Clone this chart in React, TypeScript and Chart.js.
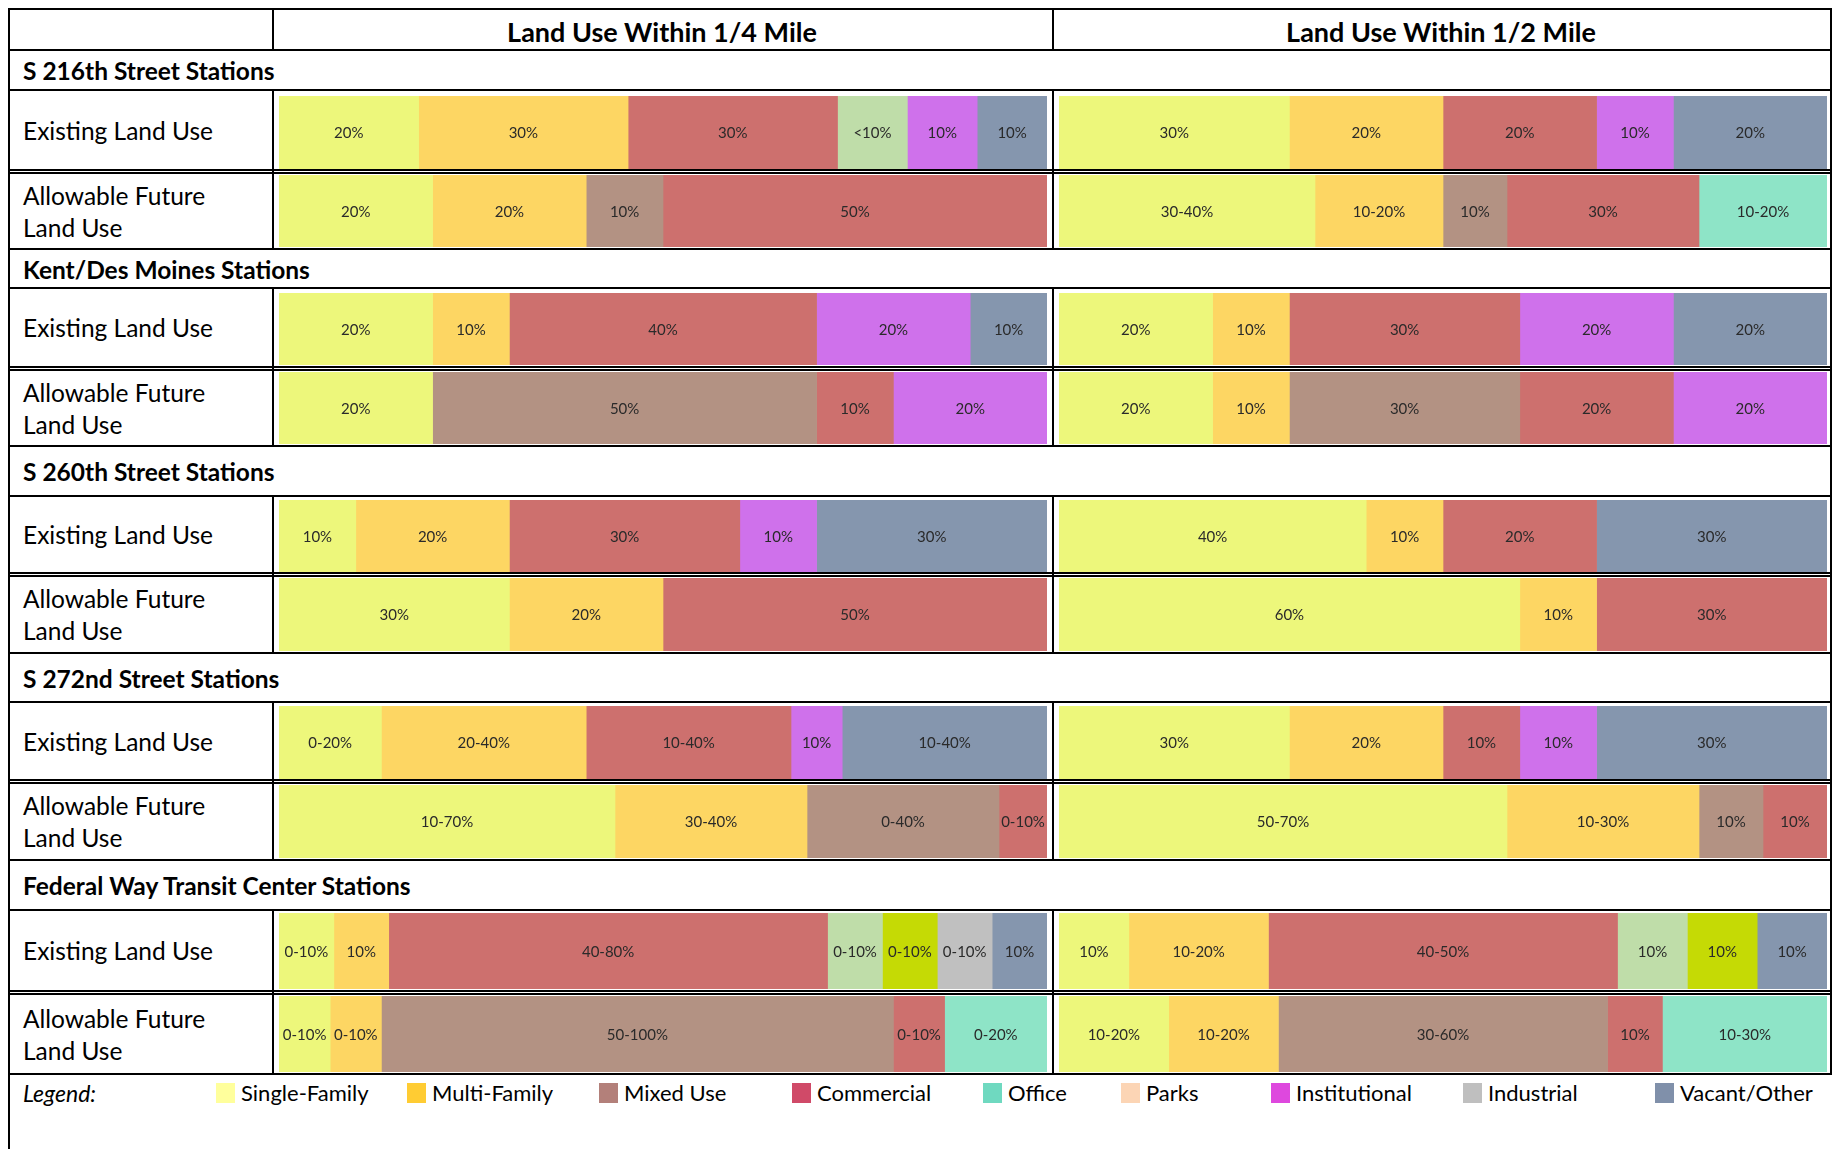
import React, { useEffect, useRef } from "react";
import { Chart, registerables } from "chart.js";

Chart.register(...registerables);

// ---------- Categories ----------
const CATEGORY_KEYS = ["SF", "MF", "MU", "COM", "OFF", "PRK", "INST", "IND", "VAC", "GRN", "AG"];
const CATEGORY_NAMES = ["Single-Family", "Multi-Family", "Mixed Use", "Commercial", "Office", "Parks", "Institutional", "Industrial", "Vacant/Other", "Open Space", "Agriculture"];
const BAR_COLORS = ["#EDF77B", "#FDD663", "#B39283", "#CD706E", "#8EE4C7", "#FBD5B5", "#CF71EB", "#C0C0C0", "#8596AE", "#BFDDA9", "#C5DA05"];

// ---------- Legend ----------
const LEGEND_LABELS = ["Single-Family", "Multi-Family", "Mixed Use", "Commercial", "Office", "Parks", "Institutional", "Industrial", "Vacant/Other"];
const LEGEND_COLORS = ["#FFFF9C", "#FFCC33", "#B3807A", "#D04A68", "#6FD9C0", "#FCD5B5", "#DE48DE", "#BFBFBF", "#8090AA"];

// ---------- Headers ----------
const COLUMN_TITLES = ["Land Use Within 1/4 Mile", "Land Use Within 1/2 Mile"];
const SECTION_TITLES = ["S 216th Street Stations", "Kent/Des Moines Stations", "S 260th Street Stations", "S 272nd Street Stations", "Federal Way Transit Center Stations"];
const ROW_TITLES = ["Existing Land Use", "Allowable Future\nLand Use"];

// ---------- Data: [category, value, label] ----------
type Seg = [string, number, string];
const s216ExistingQuarter: Seg[] = [["SF", 20, "20%"], ["MF", 30, "30%"], ["COM", 30, "30%"], ["GRN", 10, "<10%"], ["INST", 10, "10%"], ["VAC", 10, "10%"]];
const s216FutureQuarter: Seg[] = [["SF", 20, "20%"], ["MF", 20, "20%"], ["MU", 10, "10%"], ["COM", 50, "50%"]];
const s216ExistingHalf: Seg[] = [["SF", 30, "30%"], ["MF", 20, "20%"], ["COM", 20, "20%"], ["INST", 10, "10%"], ["VAC", 20, "20%"]];
const s216FutureHalf: Seg[] = [["SF", 40, "30-40%"], ["MF", 20, "10-20%"], ["MU", 10, "10%"], ["COM", 30, "30%"], ["OFF", 20, "10-20%"]];

const kentExistingQuarter: Seg[] = [["SF", 20, "20%"], ["MF", 10, "10%"], ["COM", 40, "40%"], ["INST", 20, "20%"], ["VAC", 10, "10%"]];
const kentFutureQuarter: Seg[] = [["SF", 20, "20%"], ["MU", 50, "50%"], ["COM", 10, "10%"], ["INST", 20, "20%"]];
const kentExistingHalf: Seg[] = [["SF", 20, "20%"], ["MF", 10, "10%"], ["COM", 30, "30%"], ["INST", 20, "20%"], ["VAC", 20, "20%"]];
const kentFutureHalf: Seg[] = [["SF", 20, "20%"], ["MF", 10, "10%"], ["MU", 30, "30%"], ["COM", 20, "20%"], ["INST", 20, "20%"]];

const s260ExistingQuarter: Seg[] = [["SF", 10, "10%"], ["MF", 20, "20%"], ["COM", 30, "30%"], ["INST", 10, "10%"], ["VAC", 30, "30%"]];
const s260FutureQuarter: Seg[] = [["SF", 30, "30%"], ["MF", 20, "20%"], ["COM", 50, "50%"]];
const s260ExistingHalf: Seg[] = [["SF", 40, "40%"], ["MF", 10, "10%"], ["COM", 20, "20%"], ["VAC", 30, "30%"]];
const s260FutureHalf: Seg[] = [["SF", 60, "60%"], ["MF", 10, "10%"], ["COM", 30, "30%"]];

const s272ExistingQuarter: Seg[] = [["SF", 20, "0-20%"], ["MF", 40, "20-40%"], ["COM", 40, "10-40%"], ["INST", 10, "10%"], ["VAC", 40, "10-40%"]];
const s272FutureQuarter: Seg[] = [["SF", 70, "10-70%"], ["MF", 40, "30-40%"], ["MU", 40, "0-40%"], ["COM", 10, "0-10%"]];
const s272ExistingHalf: Seg[] = [["SF", 30, "30%"], ["MF", 20, "20%"], ["COM", 10, "10%"], ["INST", 10, "10%"], ["VAC", 30, "30%"]];
const s272FutureHalf: Seg[] = [["SF", 70, "50-70%"], ["MF", 30, "10-30%"], ["MU", 10, "10%"], ["COM", 10, "10%"]];

const fwExistingQuarter: Seg[] = [["SF", 10, "0-10%"], ["MF", 10, "10%"], ["COM", 80, "40-80%"], ["GRN", 10, "0-10%"], ["AG", 10, "0-10%"], ["IND", 10, "0-10%"], ["VAC", 10, "10%"]];
const fwFutureQuarter: Seg[] = [["SF", 10, "0-10%"], ["MF", 10, "0-10%"], ["MU", 100, "50-100%"], ["COM", 10, "0-10%"], ["OFF", 20, "0-20%"]];
const fwExistingHalf: Seg[] = [["SF", 10, "10%"], ["MF", 20, "10-20%"], ["COM", 50, "40-50%"], ["GRN", 10, "10%"], ["AG", 10, "10%"], ["VAC", 10, "10%"]];
const fwFutureHalf: Seg[] = [["SF", 20, "10-20%"], ["MF", 20, "10-20%"], ["MU", 60, "30-60%"], ["COM", 10, "10%"], ["OFF", 30, "10-30%"]];

const SECTION_BARS: Seg[][][][] = [
  [[s216ExistingQuarter, s216ExistingHalf], [s216FutureQuarter, s216FutureHalf]],
  [[kentExistingQuarter, kentExistingHalf], [kentFutureQuarter, kentFutureHalf]],
  [[s260ExistingQuarter, s260ExistingHalf], [s260FutureQuarter, s260FutureHalf]],
  [[s272ExistingQuarter, s272ExistingHalf], [s272FutureQuarter, s272FutureHalf]],
  [[fwExistingQuarter, fwExistingHalf], [fwFutureQuarter, fwFutureHalf]],
];

// ---------- Layout (pixels) ----------
const X_LEFT = 8;
const X_LABEL_DIV = 272;
const X_COL_DIV = 1052;
const X_RIGHT = 1830;
const Y_TOP = 8;
const Y_HEADER = 49;
const LINE = 2;
// per section: [sectionTop, sectionBottom(= row1 top), row1/row2 line, section end]
const SECTION_LINES = [
  [49, 89, 170, 248],
  [248, 287, 367, 445],
  [445, 495, 573, 652],
  [652, 701, 780, 859],
  [859, 909, 991, 1073],
];
const BAR_Y = [
  [[96, 169], [175, 247]],
  [[293, 365], [372, 444]],
  [[500, 572], [578, 651]],
  [[706, 779], [785, 858]],
  [[913, 989], [996, 1072]],
];
const BAR_X = [[279, 1047], [1059, 1827]];
const LEGEND_SWATCH_X = [216, 407, 599, 792, 983, 1121, 1271, 1463, 1655];
const LEGEND_Y = 1083;

const LABEL_FONT = "Lato, 'Open Sans', sans-serif";

function colorOf(key: string): string {
  return BAR_COLORS[CATEGORY_KEYS.indexOf(key)];
}
function nameOf(key: string): string {
  return CATEGORY_NAMES[CATEGORY_KEYS.indexOf(key)];
}

const segLabelPlugin = {
  id: "segLabels",
  afterDatasetsDraw(chart: any) {
    const ctx = chart.ctx;
    ctx.save();
    ctx.font = "15px " + LABEL_FONT;
    ctx.fillStyle = "#2a2a2a";
    ctx.textAlign = "center";
    ctx.textBaseline = "middle";
    chart.data.datasets.forEach((ds: any, i: number) => {
      const meta = chart.getDatasetMeta(i);
      const el = meta.data[0];
      if (!el) return;
      const p = el.getProps(["x", "base", "y"], true);
      ctx.fillText(ds.segLabel, (p.x + p.base) / 2, p.y + 1);
    });
    ctx.restore();
  },
};

function BarCell({ segs, x0, x1, y0, y1 }: { segs: Seg[]; x0: number; x1: number; y0: number; y1: number }) {
  const ref = useRef<HTMLCanvasElement>(null);
  const w = x1 - x0;
  const h = y1 - y0;
  useEffect(() => {
    if (!ref.current) return;
    const total = segs.reduce((a, s) => a + s[1], 0);
    const chart = new Chart(ref.current, {
      type: "bar",
      data: {
        labels: ["row"],
        datasets: segs.map((s) => ({
          label: nameOf(s[0]),
          data: [s[1]],
          backgroundColor: colorOf(s[0]),
          borderWidth: 0,
          barPercentage: 1,
          categoryPercentage: 1,
          stack: "s",
          segLabel: s[2],
        })) as any,
      },
      options: {
        indexAxis: "y",
        responsive: false,
        maintainAspectRatio: false,
        animation: false,
        devicePixelRatio: 1,
        layout: { padding: 0 },
        scales: {
          x: { type: "linear", stacked: true, min: 0, max: total, display: false },
          y: { stacked: true, display: false },
        },
        plugins: { legend: { display: false }, tooltip: { enabled: false } },
      } as any,
      plugins: [segLabelPlugin],
    });
    return () => chart.destroy();
  }, [segs]);
  return (
    <canvas
      ref={ref}
      width={w}
      height={h}
      style={{ position: "absolute", left: x0, top: y0, width: w, height: h, display: "block" }}
    />
  );
}

function HLine({ x0, x1, y, t = LINE }: { x0: number; x1: number; y: number; t?: number }) {
  return <div style={{ position: "absolute", left: x0, top: y, width: x1 - x0, height: t, background: "#000" }} />;
}
function VLine({ x, y0, y1, t = LINE }: { x: number; y0: number; y1: number; t?: number }) {
  return <div style={{ position: "absolute", left: x, top: y0, width: t, height: y1 - y0, background: "#000" }} />;
}

export default function App() {
  const textBase: React.CSSProperties = {
    position: "absolute",
    fontFamily: LABEL_FONT,
    color: "#000",
    whiteSpace: "pre",
  };
  const els: React.ReactNode[] = [];
  // outer frame
  els.push(<HLine key="top" x0={X_LEFT} x1={X_RIGHT + LINE} y={Y_TOP} />);
  els.push(<VLine key="left" x={X_LEFT} y0={Y_TOP} y1={1149} />);
  els.push(<VLine key="right" x={X_RIGHT} y0={Y_TOP} y1={1075} />);
  // header row
  els.push(<VLine key="hdiv1" x={X_LABEL_DIV} y0={Y_TOP} y1={Y_HEADER} />);
  els.push(<VLine key="hdiv2" x={X_COL_DIV} y0={Y_TOP} y1={Y_HEADER} />);
  els.push(<HLine key="hbot" x0={X_LEFT} x1={X_RIGHT + LINE} y={Y_HEADER} />);
  COLUMN_TITLES.forEach((t, i) => {
    const a = i === 0 ? X_LABEL_DIV : X_COL_DIV;
    const b = i === 0 ? X_COL_DIV : X_RIGHT;
    els.push(
      <div key={"ct" + i} style={{ ...textBase, left: a, width: b - a, top: Y_TOP + 4, height: Y_HEADER - Y_TOP - 2, lineHeight: Y_HEADER - Y_TOP - 2 + "px", textAlign: "center", fontWeight: 700, fontSize: 27 }}>
        {t}
      </div>
    );
  });

  SECTION_LINES.forEach((sl, si) => {
    const [sTop, r1Top, mid, sEnd] = sl;
    // section title
    els.push(
      <div key={"st" + si} style={{ ...textBase, left: 23, top: sTop + 3, height: r1Top - sTop - 2, lineHeight: r1Top - sTop - 2 + "px", fontWeight: 700, fontSize: 24.5 }}>
        {SECTION_TITLES[si]}
      </div>
    );
    els.push(<HLine key={"sb" + si} x0={X_LEFT} x1={X_RIGHT + LINE} y={r1Top} />);
    // double line between rows
    els.push(<HLine key={"m1" + si} x0={X_LEFT} x1={X_RIGHT + LINE} y={mid - 1} t={1.5} />);
    els.push(<HLine key={"m2" + si} x0={X_LEFT} x1={X_RIGHT + LINE} y={mid + 2} t={1.5} />);
    els.push(<HLine key={"se" + si} x0={X_LEFT} x1={X_RIGHT + LINE} y={sEnd} />);
    els.push(<VLine key={"vd1" + si} x={X_LABEL_DIV} y0={r1Top} y1={sEnd + LINE} />);
    els.push(<VLine key={"vd2" + si} x={X_COL_DIV} y0={r1Top} y1={sEnd + LINE} />);
    const rowBounds = [[r1Top, mid], [mid + 3, sEnd]];
    ROW_TITLES.forEach((rt, ri) => {
      const [a, b] = rowBounds[ri];
      els.push(
        <div key={"rt" + si + "_" + ri} style={{ ...textBase, left: 23, top: a + 1, height: b - a, display: "flex", alignItems: "center", fontSize: 24.5, lineHeight: "32px" }}>
          {rt}
        </div>
      );
      [0, 1].forEach((ci) => {
        const [y0, y1] = BAR_Y[si][ri];
        const [x0, x1] = BAR_X[ci];
        els.push(<BarCell key={"b" + si + ri + ci} segs={SECTION_BARS[si][ri][ci]} x0={x0} x1={x1} y0={y0} y1={y1} />);
      });
    });
  });

  // legend
  els.push(
    <div key="legtitle" style={{ ...textBase, left: 23, top: LEGEND_Y - 4, height: 28, lineHeight: "28px", fontStyle: "italic", fontSize: 23 }}>
      Legend:
    </div>
  );
  LEGEND_LABELS.forEach((l, i) => {
    els.push(<div key={"sw" + i} style={{ position: "absolute", left: LEGEND_SWATCH_X[i], top: LEGEND_Y, width: 19, height: 20, background: LEGEND_COLORS[i] }} />);
    els.push(
      <div key={"lt" + i} style={{ ...textBase, left: LEGEND_SWATCH_X[i] + 25, top: LEGEND_Y - 4, height: 28, lineHeight: "28px", fontSize: 22 }}>
        {l}
      </div>
    );
  });

  return (
    <div style={{ position: "absolute", left: 0, top: 0, width: 1833, height: 1149, background: "#fff", overflow: "hidden" }}>
      {els}
    </div>
  );
}
